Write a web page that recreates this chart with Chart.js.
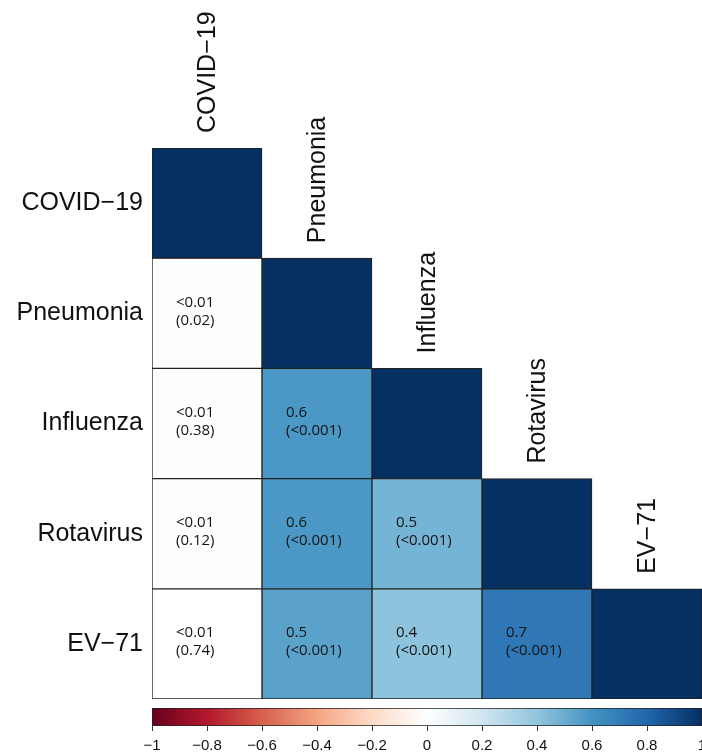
<!DOCTYPE html>
<html>
<head>
<meta charset="utf-8">
<script src="https://cdn.jsdelivr.net/npm/chart.js@4"></script>
<style>
  html, body { margin: 0; padding: 0; background: #ffffff; }
  #wrap { position: relative; width: 702px; height: 755px; overflow: hidden; }
  #matrixBox { position: absolute; left: 0; top: 0; width: 702px; height: 700px; }
  #barBox { position: absolute; left: 0; top: 700px; width: 702px; height: 55px; }
</style>
</head>
<body>
<div id="wrap">
  <div id="matrixBox"><canvas id="matrix"></canvas></div>
  <div id="barBox"><canvas id="colorbar"></canvas></div>
</div>
<script>
// Variables of the correlation matrix
const variables = ['COVID\u221219', 'Pneumonia', 'Influenza', 'Rotavirus', 'EV\u221271'];

// Lower-triangle correlation coefficients, one array per row (columns 0..row-1)
const rPneumonia = [0.009];
const rInfluenza = [0.004, 0.58];
const rRotavirus = [0.006, 0.58, 0.47];
const rEV71      = [0.002, 0.54, 0.41, 0.72];

// p-values printed under each coefficient
const pPneumonia = ['0.02'];
const pInfluenza = ['0.38', '<0.001'];
const pRotavirus = ['0.12', '<0.001', '<0.001'];
const pEV71      = ['0.74', '<0.001', '<0.001', '<0.001'];

// Colour-bar tick values
const barTicks = [-1, -0.8, -0.6, -0.4, -0.2, 0, 0.2, 0.4, 0.6, 0.8, 1];

const rRows = [[], rPneumonia, rInfluenza, rRotavirus, rEV71];
const pRows = [[], pPneumonia, pInfluenza, pRotavirus, pEV71];

// Diverging red-blue palette, stops at -1, -0.8, ..., 1
const palette = ['#67001F', '#B2182B', '#D6604D', '#F4A582', '#FDDBC7', '#FFFFFF',
                 '#D1E5F0', '#92C5DE', '#4393C3', '#2166AC', '#053061'];

function hexToRgb(h) {
  return [parseInt(h.slice(1, 3), 16), parseInt(h.slice(3, 5), 16), parseInt(h.slice(5, 7), 16)];
}
function colourFor(v) {
  const pos = (Math.max(-1, Math.min(1, v)) + 1) / 0.2;
  const i = Math.min(palette.length - 2, Math.floor(pos));
  const t = pos - i;
  const a = hexToRgb(palette[i]), b = hexToRgb(palette[i + 1]);
  const c = a.map((x, k) => Math.round(x + (b[k] - x) * t));
  return 'rgb(' + c.join(',') + ')';
}
function valueAt(row, col) {
  if (col === row) return 1;
  if (col < row) return rRows[row][col];
  return null;
}
function rLabel(v) {
  return Math.abs(v) < 0.01 ? '<0.01' : v.toFixed(1);
}

const labelFont = "25px 'Liberation Sans', Arial, sans-serif";
const cellFont = "15px 'Open Sans', 'Noto Sans', sans-serif";

// One floating-bar dataset per matrix row: each cell spans [row, row + 1]
const datasets = variables.map((name, row) => ({
  label: name,
  data: variables.map((_, col) => (col <= row ? [row, row + 1] : null)),
  backgroundColor: variables.map((_, col) => {
    const v = valueAt(row, col);
    return v === null ? 'rgba(0,0,0,0)' : colourFor(v);
  }),
  borderColor: '#222222',
  borderWidth: 1,
  borderSkipped: false,
  grouped: false,
  barPercentage: 1,
  categoryPercentage: 1
}));

// Writes coefficient and p-value into each off-diagonal cell
const cellText = {
  id: 'cellText',
  afterDatasetsDraw(chart) {
    const ctx = chart.ctx;
    ctx.save();
    ctx.font = cellFont;
    ctx.fillStyle = '#141414';
    ctx.textAlign = 'left';
    ctx.textBaseline = 'middle';
    chart.data.datasets.forEach((ds, row) => {
      const meta = chart.getDatasetMeta(row);
      meta.data.forEach((el, col) => {
        if (col >= row) return;
        const left = el.x - el.width / 2 + 24;
        const mid = (el.y + el.base) / 2 - 2;
        ctx.fillText(rLabel(rRows[row][col]), left, mid - 9);
        ctx.fillText('(' + pRows[row][col] + ')', left, mid + 9);
      });
    });
    ctx.restore();
  }
};

// Vertical column headings sitting above each diagonal cell
const columnHeads = {
  id: 'columnHeads',
  afterDraw(chart) {
    const ctx = chart.ctx;
    const xs = chart.scales.x, ys = chart.scales.y;
    ctx.save();
    ctx.font = labelFont;
    ctx.fillStyle = '#111111';
    ctx.textAlign = 'left';
    ctx.textBaseline = 'middle';
    variables.forEach((name, col) => {
      const x = xs.getPixelForValue(col);
      const y = ys.getPixelForValue(col) - 15;
      ctx.save();
      ctx.translate(x, y);
      ctx.rotate(-Math.PI / 2);
      ctx.fillText(name, 0, 1);
      ctx.restore();
    });
    ctx.restore();
  }
};

new Chart(document.getElementById('matrix'), {
  type: 'bar',
  data: { labels: variables, datasets },
  plugins: [cellText, columnHeads],
  options: {
    responsive: true,
    maintainAspectRatio: false,
    animation: false,
    layout: { autoPadding: false, padding: { top: 148, right: 0, bottom: 1, left: 0 } },
    plugins: { legend: { display: false }, tooltip: { enabled: false } },
    scales: {
      x: { type: 'category', display: false },
      y: {
        type: 'linear',
        min: 0,
        max: variables.length,
        reverse: true,
        grid: { display: false, drawTicks: false },
        border: { display: false },
        afterBuildTicks(axis) {
          axis.ticks = variables.map((_, i) => ({ value: i + 0.5 }));
        },
        afterFit(axis) {
          axis.width = 152;
          axis.paddingTop = 0;
          axis.paddingBottom = 0;
        },
        ticks: {
          padding: 9,
          color: '#111111',
          font: { family: "'Liberation Sans', Arial, sans-serif", size: 25 },
          callback: (v) => variables[Math.floor(v)]
        }
      }
    }
  }
});

// Colour legend: one floating bar from -1 to 1 filled with the palette
new Chart(document.getElementById('colorbar'), {
  type: 'bar',
  data: {
    labels: ['r'],
    datasets: [{
      data: [[barTicks[0], barTicks[barTicks.length - 1]]],
      backgroundColor(ctx) {
        const area = ctx.chart.chartArea;
        if (!area) return '#ffffff';
        const g = ctx.chart.ctx.createLinearGradient(area.left, 0, area.right, 0);
        palette.forEach((c, i) => g.addColorStop(i / (palette.length - 1), c));
        return g;
      },
      borderColor: '#222222',
      borderWidth: 1,
      borderSkipped: false,
      barPercentage: 1,
      categoryPercentage: 1
    }]
  },
  options: {
    indexAxis: 'y',
    responsive: true,
    maintainAspectRatio: false,
    animation: false,
    layout: { autoPadding: false, padding: { top: 8, right: 0, bottom: 0, left: 152 } },
    plugins: { legend: { display: false }, tooltip: { enabled: false } },
    scales: {
      y: { display: false },
      x: {
        type: 'linear',
        min: -1,
        max: 1,
        afterBuildTicks(axis) { axis.ticks = barTicks.map(v => ({ value: v })); },
        afterFit(axis) {
          axis.height = 29;
          axis.paddingLeft = 0;
          axis.paddingRight = 0;
        },
        grid: { display: true, drawOnChartArea: false, drawTicks: true, tickLength: 5, color: '#333333' },
        border: { display: false },
        ticks: {
          padding: 6,
          maxRotation: 0,
          autoSkip: false,
          color: '#111111',
          font: { family: "'Liberation Sans', Arial, sans-serif", size: 15 },
          callback: (v) => {
            const s = Math.abs(v) < 1e-9 ? '0' : String(Math.round(v * 10) / 10);
            return s.replace('-', '\u2212');
          }
        }
      }
    }
  }
});
</script>
</body>
</html>
